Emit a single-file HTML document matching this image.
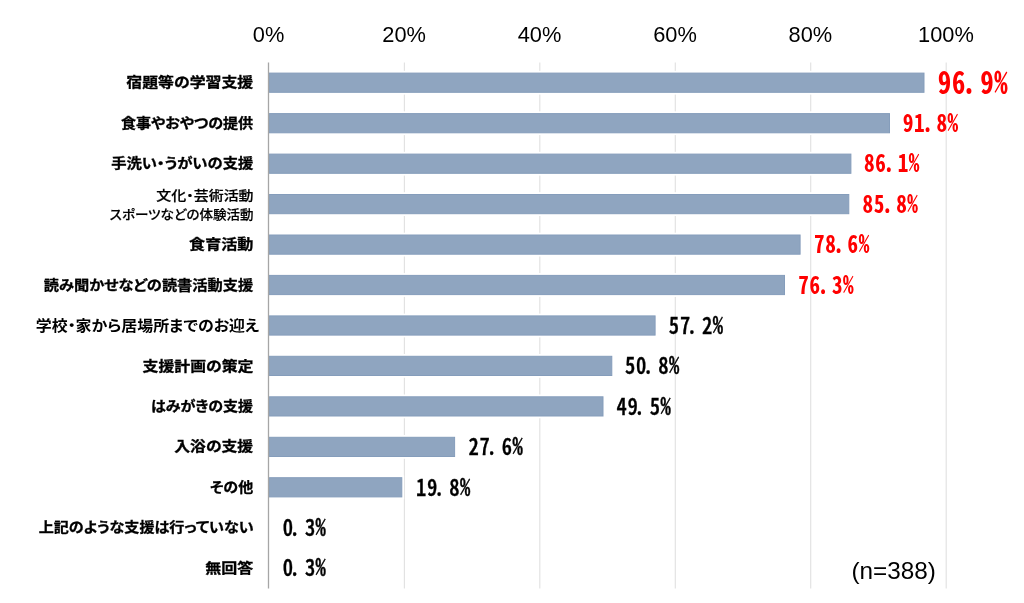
<!DOCTYPE html>
<html lang="ja">
<head>
<meta charset="utf-8">
<title>chart</title>
<style>
html,body{margin:0;padding:0;background:#fff;}
body{width:1024px;height:603px;overflow:hidden;}
svg{display:block;}
.ax{font-family:"Liberation Sans",sans-serif;font-size:21.8px;fill:#000;text-anchor:middle;}
.cat,.cat2,.cat3{font-family:"Liberation Sans","Noto Sans CJK JP",sans-serif;fill:#000;text-anchor:end;font-feature-settings:"palt";}
.cat{font-weight:bold;font-size:13.7px;stroke:#000;stroke-width:0.3px;}
.cat2{font-weight:500;font-size:12.9px;stroke:#000;stroke-width:0.2px;}
.cat3{font-weight:bold;font-size:15px;}
.val{font-family:"Noto Sans CJK JP",sans-serif;font-feature-settings:"hwid";}
.vr{font-weight:bold;fill:#ff0000;}
.vk{font-weight:500;fill:#000;stroke:#000;stroke-width:0.35px;}
.n{font-family:"Liberation Sans",sans-serif;font-size:24.3px;fill:#000;}
</style>
</head>
<body>
<svg width="1024" height="603" viewBox="0 0 1024 603">
<rect x="0" y="0" width="1024" height="603" fill="#ffffff"/>
<line x1="404.4" y1="62.5" x2="404.4" y2="588.5" stroke="#e2e2e2" stroke-width="1.15"/>
<line x1="539.8" y1="62.5" x2="539.8" y2="588.5" stroke="#e2e2e2" stroke-width="1.15"/>
<line x1="675.3" y1="62.5" x2="675.3" y2="588.5" stroke="#e2e2e2" stroke-width="1.15"/>
<line x1="810.7" y1="62.5" x2="810.7" y2="588.5" stroke="#e2e2e2" stroke-width="1.15"/>
<line x1="946.2" y1="62.5" x2="946.2" y2="588.5" stroke="#e2e2e2" stroke-width="1.15"/>
<text class="ax" x="268.6" y="42.4">0%</text>
<text class="ax" x="404.1" y="42.4">20%</text>
<text class="ax" x="539.5" y="42.4">40%</text>
<text class="ax" x="675.0" y="42.4">60%</text>
<text class="ax" x="810.4" y="42.4">80%</text>
<text class="ax" x="945.9" y="42.4">100%</text>
<rect x="268.9" y="70.8" width="657.4" height="23.8" fill="#ffffff"/>
<rect x="269.4" y="73.1" width="654.6" height="19.2" fill="#8fa5c0" stroke="#859dbb" stroke-width="1"/>
<rect x="268.9" y="111.3" width="622.9" height="23.8" fill="#ffffff"/>
<rect x="269.4" y="113.6" width="620.1" height="19.2" fill="#8fa5c0" stroke="#859dbb" stroke-width="1"/>
<rect x="268.9" y="151.8" width="584.3" height="23.8" fill="#ffffff"/>
<rect x="269.4" y="154.1" width="581.5" height="19.2" fill="#8fa5c0" stroke="#859dbb" stroke-width="1"/>
<rect x="268.9" y="192.2" width="582.2" height="23.8" fill="#ffffff"/>
<rect x="269.4" y="194.5" width="579.4" height="19.2" fill="#8fa5c0" stroke="#859dbb" stroke-width="1"/>
<rect x="268.9" y="232.7" width="533.5" height="23.8" fill="#ffffff"/>
<rect x="269.4" y="235.0" width="530.7" height="19.2" fill="#8fa5c0" stroke="#859dbb" stroke-width="1"/>
<rect x="268.9" y="273.1" width="517.9" height="23.8" fill="#ffffff"/>
<rect x="269.4" y="275.4" width="515.1" height="19.2" fill="#8fa5c0" stroke="#859dbb" stroke-width="1"/>
<rect x="268.9" y="313.6" width="388.5" height="23.8" fill="#ffffff"/>
<rect x="269.4" y="315.9" width="385.7" height="19.2" fill="#8fa5c0" stroke="#859dbb" stroke-width="1"/>
<rect x="268.9" y="354.0" width="345.2" height="23.8" fill="#ffffff"/>
<rect x="269.4" y="356.3" width="342.4" height="19.2" fill="#8fa5c0" stroke="#859dbb" stroke-width="1"/>
<rect x="268.9" y="394.5" width="336.4" height="23.8" fill="#ffffff"/>
<rect x="269.4" y="396.8" width="333.6" height="19.2" fill="#8fa5c0" stroke="#859dbb" stroke-width="1"/>
<rect x="268.9" y="435.0" width="188.0" height="23.8" fill="#ffffff"/>
<rect x="269.4" y="437.3" width="185.2" height="19.2" fill="#8fa5c0" stroke="#859dbb" stroke-width="1"/>
<rect x="268.9" y="475.4" width="135.2" height="23.8" fill="#ffffff"/>
<rect x="269.4" y="477.7" width="132.4" height="19.2" fill="#8fa5c0" stroke="#859dbb" stroke-width="1"/>
<rect x="268.4" y="517.7" width="0.6" height="20.2" fill="#8fa5c0"/>
<rect x="268.4" y="558.1" width="0.6" height="20.2" fill="#8fa5c0"/>
<line x1="268.5" y1="62.5" x2="268.5" y2="588.5" stroke="#a6a6a6" stroke-width="1.3"/>
<text class="cat" transform="translate(253.19,87.28) scale(1.1605,1)">宿題等の学習支援</text>
<text class="cat" transform="translate(253.12,127.74) scale(1.0995,1)">食事やおやつの提供</text>
<text class="cat" transform="translate(253.23,168.20) scale(1.1179,1)">手洗い・うがいの支援</text>
<text class="cat2" transform="translate(253.59,200.41) scale(1.1611,1)">文化・芸術活動</text>
<text class="cat2" transform="translate(253.55,218.51) scale(1.0495,1)">スポーツなどの体験活動</text>
<text class="cat" transform="translate(253.46,249.12) scale(1.1746,1)">食育活動</text>
<text class="cat" transform="translate(253.17,289.58) scale(1.1116,1)">読み聞かせなどの読書活動支援</text>
<text class="cat3" transform="translate(259.26,331.19) scale(1.0634,1)">学校・家から居場所までのお迎え</text>
<text class="cat" transform="translate(253.38,370.50) scale(1.1582,1)">支援計画の策定</text>
<text class="cat" transform="translate(253.13,410.96) scale(1.0954,1)">はみがきの支援</text>
<text class="cat" transform="translate(253.20,451.42) scale(1.1563,1)">入浴の支援</text>
<text class="cat" transform="translate(253.18,491.88) scale(1.0957,1)">その他</text>
<text class="cat" transform="translate(253.58,532.34) scale(1.1004,1)">上記のような支援は行っていない</text>
<text class="cat" transform="translate(253.32,572.80) scale(1.1685,1)">無回答</text>
<text class="val vr" transform="translate(937.5,0) scale(0.95,1.12)" x="0.37 15.21 26.01 44.90 59.74" y="83.6" font-size="28.2">96.9%</text>
<text class="val vr" transform="translate(902.5,0) scale(0.95,1.12)" x="0.29 12.08 20.66 35.66 47.45" y="117.6" font-size="22.4">91.8%</text>
<text class="val vr" transform="translate(863.8,0) scale(0.95,1.12)" x="0.29 12.08 20.66 35.66 47.45" y="153.8" font-size="22.4">86.1%</text>
<text class="val vr" transform="translate(862.3,0) scale(0.95,1.12)" x="0.29 12.08 20.66 35.66 47.45" y="189.9" font-size="22.4">85.8%</text>
<text class="val vr" transform="translate(813.7,0) scale(0.95,1.12)" x="0.29 12.08 20.66 35.66 47.45" y="226.0" font-size="22.4">78.6%</text>
<text class="val vr" transform="translate(798.0,0) scale(0.95,1.12)" x="0.29 12.08 20.66 35.66 47.45" y="262.1" font-size="22.4">76.3%</text>
<text class="val vk" transform="translate(668.4,0) scale(0.92,1.07)" x="0.43 12.50 19.91 36.63 48.26" y="311.8" font-size="22.4">57.2%</text>
<text class="val vk" transform="translate(624.6,0) scale(0.92,1.07)" x="0.43 12.50 19.91 36.63 48.26" y="349.6" font-size="22.4">50.8%</text>
<text class="val vk" transform="translate(616.0,0) scale(0.92,1.07)" x="0.43 12.50 19.91 36.63 48.26" y="387.4" font-size="22.4">49.5%</text>
<text class="val vk" transform="translate(468.1,0) scale(0.92,1.07)" x="0.43 12.50 19.91 36.63 48.26" y="425.3" font-size="22.4">27.6%</text>
<text class="val vk" transform="translate(415.6,0) scale(0.92,1.07)" x="0.43 12.50 19.91 36.63 48.26" y="463.1" font-size="22.4">19.8%</text>
<text class="val vk" transform="translate(282.3,0) scale(0.92,1.07)" x="0.43 7.85 24.56 36.19" y="500.9" font-size="22.4">0.3%</text>
<text class="val vk" transform="translate(282.3,0) scale(0.92,1.07)" x="0.43 7.85 24.56 36.19" y="538.7" font-size="22.4">0.3%</text>
<text class="n" x="851.5" y="578.5">(n=388)</text>
</svg>
</body>
</html>
